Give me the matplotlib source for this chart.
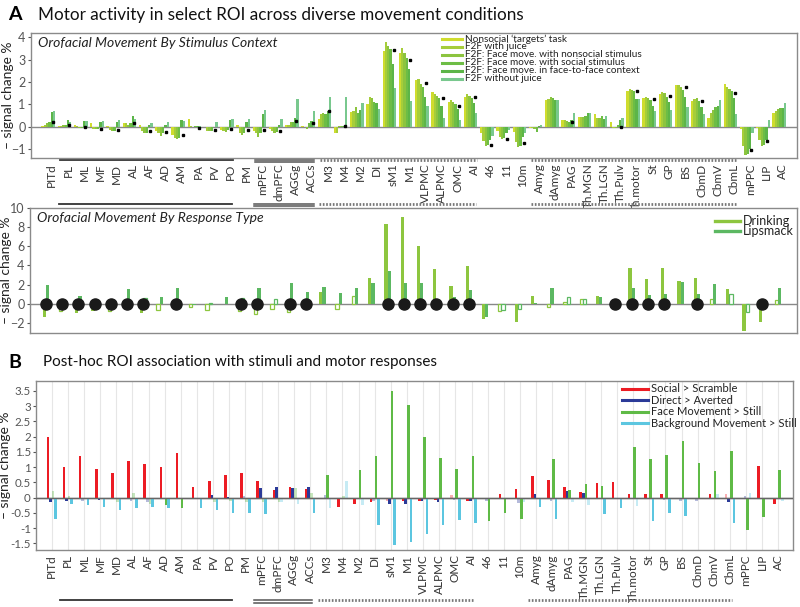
import numpy as np
import matplotlib.pyplot as plt

plt.rcParams['font.family'] = ['Lato', 'DejaVu Sans']

rois = ['PITd', 'PL', 'ML', 'MF', 'MD', 'AL', 'AF', 'AD', 'AM', 'PA', 'PV', 'PO',
        'PM', 'mPFC', 'dmPFC', 'AGGg', 'ACCs', 'M3', 'M4', 'M2', 'DI', 'sM1',
        'M1', 'VLPMC', 'ALPMC', 'OMC', 'AI', '46', '11', '10m', 'Amyg', 'dAmyg',
        'PAG', 'Th.MGN', 'Th.LGN', 'Th.Pulv', 'Th.motor', 'St', 'GP', 'BS',
        'CbmD', 'CbmV', 'CbmL', 'mPPC', 'LIP', 'AC']

# --- panel A, stimulus context ---
ctx_labels = ["Nonsocial \u2018targets\u2019 task", "F2F with juice",
              "F2F: Face move. with nonsocial stimulus",
              "F2F: Face move. with social stimulus",
              "F2F: Face move. in face-to-face context", "F2F without juice"]
nonsocial = [0.05, 0.05, 0.1, 0.15, 0.05, 0.15, 0.1, -0.2, -0.35, 0.35, 0.0, -0.15, 0.1, -0.2, -0.1, 0.1,
             0.05, 0.35, -0.3, 0.65, 1.0, 3.4, 3.3, 2.1, 1.55, 1.1, 1.35, -0.3, -0.2, -0.25, -0.05, 1.2,
             0.3, 0.45, 0.55, 0.2, 1.6, 1.3, 1.45, 1.85, 1.15, 0.4, 1.9, -0.1, -0.05, 0.6]
f2f_juice = [0.1, 0.05, 0.05, -0.1, -0.15, 0.15, -0.2, -0.3, -0.5, 0.05, -0.2, -0.2, -0.3, -0.3, -0.2, 0.1,
             0.0, 0.55, -0.3, 0.7, 1.35, 3.8, 3.55, 2.15, 1.45, 1.2, 1.45, -0.65, -0.45, -0.7, -0.05, 1.25,
             0.3, 0.45, 0.4, -0.05, 1.7, 1.35, 1.55, 1.85, 1.25, 0.6, 1.8, -0.85, -0.6, 0.7]
face_nonsoc = [0.15, 0.1, -0.05, -0.1, -0.2, 0.1, -0.3, -0.4, -0.55, 0.0, -0.2, -0.25, -0.35, -0.45, -0.3, 0.2,
               -0.1, 0.6, 0.05, 0.9, 1.3, 3.6, 3.3, 1.9, 1.4, 1.1, 1.4, -0.85, -0.55, -0.9, -0.1, 1.35,
               0.25, 0.45, 0.4, -0.05, 1.65, 1.3, 1.5, 1.8, 1.3, 0.75, 1.7, -1.25, -0.85, 0.8]
face_soc = [0.2, 0.1, -0.05, -0.1, -0.2, 0.15, -0.3, -0.3, -0.5, 0.05, -0.2, -0.15, -0.3, -0.3, -0.25, 0.2,
            0.15, 0.55, 0.05, 0.6, 1.1, 3.5, 3.1, 1.8, 1.3, 1.0, 1.3, -0.8, -0.5, -0.85, -0.25, 1.3,
            0.2, 0.5, 0.5, 0.1, 1.6, 1.2, 1.35, 1.65, 1.15, 0.9, 1.6, -1.2, -0.8, 0.85]
face_f2f = [0.65, 0.3, 0.25, 0.2, 0.2, 0.5, 0.1, 0.1, 0.3, 0.05, 0.0, 0.3, 0.2, 0.55, 0.1, 0.4,
            0.25, 0.7, 0.05, 0.75, 1.05, 2.8, 2.6, 1.35, 0.95, 0.8, 1.05, -0.6, -0.3, -0.45, 0.05, 1.2,
            0.3, 0.6, 0.35, 0.3, 1.25, 0.95, 1.1, 1.35, 0.9, 0.95, 1.3, -1.0, -0.6, 0.85]
f2f_nojuice = [0.7, 0.2, 0.25, 0.25, 0.3, 0.35, 0.15, 0.2, 0.25, 0.05, 0.2, 0.35, 0.35, 0.75, 0.35, 1.25,
               0.7, 1.35, 1.35, 1.05, 0.8, 1.75, 1.15, 0.95, 0.4, 0.3, 0.6, -0.4, -0.15, -0.3, 0.1, 1.2,
               0.6, 0.6, 0.5, 0.4, 1.25, 0.7, 0.75, 0.9, 0.55, 1.2, 0.55, -0.3, 0.3, 1.05]
ctx_marks = {'PITd': 0.2, 'PL': 0.1, 'ML': 0.0, 'MF': -0.1, 'MD': -0.15, 'AL': 0.15, 'AF': -0.2,
             'AD': -0.25, 'AM': -0.35, 'PA': -0.05, 'PV': -0.15, 'PO': -0.1, 'PM': -0.15,
             'mPFC': -0.15, 'dmPFC': -0.2, 'AGGg': 0.25, 'ACCs': 0.15, 'M3': 0.7, 'M4': 0.05,
             'sM1': 3.45, 'M1': 3.0, 'VLPMC': 1.95, 'ALPMC': 1.3, 'OMC': 0.95, 'AI': 1.35,
             '46': -0.8, '11': -0.55, '10m': -0.75, 'PAG': 0.2, 'Th.Pulv': 0.0, 'Th.motor': 1.6,
             'St': 1.25, 'GP': 1.4, 'BS': 1.8, 'CbmD': 1.15, 'CbmL': 1.5, 'mPPC': -1.05, 'LIP': -0.65}

# --- panel A, response type ---
drinking = [-1.4, -0.7, -1.0, -0.7, -0.7, 0.0, -1.0, -0.6, 0.0, -0.3, -0.6, 0.0, -0.7, -1.1, -0.5, -0.8,
            0.0, 1.2, -0.5, 0.8, 2.7, 8.3, 9.0, 6.0, 3.6, 1.9, 3.9, -1.6, -0.7, -1.9, 0.8, -0.3,
            0.2, 0.5, 0.8, 0.0, 3.7, 2.6, 3.7, 2.4, 2.7, 0.5, 1.5, -2.8, -1.9, 0.4]
lipsmack = [2.0, 0.5, 0.8, 0.55, 0.55, 1.5, 0.6, 0.7, 1.6, -0.1, 0.1, 0.7, 0.6, 1.7, 0.5, 2.2,
            1.2, 1.8, 1.1, 1.7, 2.2, 3.4, 2.2, 2.2, 0.1, 0.7, 1.4, -1.4, -0.6, -0.5, 0.1, 1.7,
            0.7, 0.5, 0.7, 0.2, 1.7, 0.9, 1.0, 2.3, 1.0, 2.1, 1.0, -0.8, 0.0, 1.6]
drink_open = ['PL', 'MD', 'AD', 'PA', 'PV', 'PM', 'mPFC', 'dmPFC', 'AGGg', 'M4', 'M2', '11',
              'dAmyg', 'PAG', 'Th.MGN', 'CbmV', 'AC']
lip_open = ['AF', 'PV', 'PM', 'dmPFC', '11', '10m', 'PAG', 'Th.MGN', 'Th.Pulv', 'CbmL', 'mPPC']
dot_rois = ['PITd', 'PL', 'ML', 'MF', 'MD', 'AL', 'AF', 'AM', 'PM', 'mPFC', 'AGGg', 'ACCs',
            'sM1', 'M1', 'VLPMC', 'ALPMC', 'OMC', 'AI', 'Th.Pulv', 'Th.motor', 'St', 'GP',
            'CbmD', 'LIP']

# --- panel B ---
b_labels = ['Social > Scramble', 'Direct > Averted', 'Face Movement > Still',
            'Background Movement > Still']
social = [2.0, 1.0, 1.35, 0.95, 0.8, 1.2, 1.1, 1.0, 1.45, 0.35, 0.55, 0.75, 0.8, 0.55, 0.25, 0.35,
          0.28, -0.03, -0.3, -0.2, -0.15, -0.1, -0.1, -0.1, -0.08, 0.08, -0.1, -0.05, 0.12, 0.27, 0.7, 0.58,
          0.35, 0.18, 0.48, 0.5, 0.12, 0.12, 0.12, -0.03, 0.0, 0.12, 0.12, -0.05, 1.02, -0.2]
direct = [-0.15, -0.1, -0.1, -0.08, -0.03, -0.12, -0.15, 0.0, -0.05, 0.0, 0.08, 0.03, 0.05, 0.3, 0.35, 0.3,
          0.33, 0.08, -0.05, 0.0, -0.12, -0.22, -0.2, -0.12, -0.15, -0.08, -0.12, -0.1, 0.0, -0.18, 0.12, -0.1,
          0.22, 0.15, 0.0, 0.0, -0.05, -0.05, -0.07, -0.1, -0.1, -0.05, -0.15, 0.05, 0.0, 0.0]
face_move = [0.2, 0.05, 0.0, 0.0, -0.15, 0.15, -0.2, -0.25, -0.35, 0.0, -0.15, -0.1, -0.15, -0.15, -0.15, 0.3,
             0.15, 0.75, 0.05, 0.9, 1.35, 3.5, 3.05, 2.0, 1.3, 0.95, 1.35, -0.78, -0.5, -0.72, 0.0, 1.25,
             0.25, 0.43, 0.38, 0.0, 1.65, 1.25, 1.4, 1.85, 1.12, 0.87, 1.52, -1.05, -0.65, 0.9]
bg_move = [-0.7, -0.2, -0.25, -0.3, -0.4, -0.35, -0.3, -0.35, 0.0, -0.35, -0.42, -0.5, -0.5, -0.55, -0.15, -0.2,
           -0.5, -0.35, 0.55, -0.25, -0.9, -1.55, -1.45, -1.2, -0.9, -0.75, -0.85, -0.05, -0.05, -0.15, -0.3, -0.7,
           -0.15, -0.25, -0.55, -0.33, -0.28, -0.78, -0.5, -0.6, 0.0, 0.1, -0.82, 0.15, 0.0, -0.1]
faint_social = ['M3', 'sM1', 'OMC', '46', 'BS', 'CbmL', 'mPPC']
faint_direct = ['ML', 'AL', 'AF', 'AM', 'PM', 'M3', 'M4', 'DI', 'OMC', '46', '10m', 'dAmyg',
                'Th.motor', 'St', 'GP', 'BS', 'CbmD', 'CbmV', 'mPPC']
faint_face = ['PITd', 'PL', 'MD', 'AL', 'AF', 'PV', 'PO', 'PM', 'mPFC', 'dmPFC', 'AGGg', 'ACCs', 'M4']
faint_bg = ['dmPFC', 'AGGg', 'M3', 'M4', 'M2', '46', '11', '10m', 'PAG', 'Th.MGN', 'Th.motor',
            'CbmV', 'mPPC', 'AC']

# anatomical groupings drawn as lines under the axis
groups = [('PL', 'PO', 'solid'), ('mPFC', 'ACCs', 'double'),
          ('M3', 'AI', 'dotted'), ('Amyg', 'CbmL', 'dotted')]

x = np.arange(len(rois))
idx = {r: i for i, r in enumerate(rois)}


def style_axes(ax, tsize=9, pad=2):
    for s in ax.spines.values():
        s.set_color('#8a8a8a')
        s.set_linewidth(1)
    ax.tick_params(axis='y', labelsize=tsize, colors='#555555', length=2, pad=pad)
    ax.tick_params(axis='x', length=0)
    ax.axhline(0, color='#888888', lw=1, zorder=1)


def group_lines(ax, y):
    tr = ax.get_xaxis_transform()
    for a, b, kind in groups:
        x0, x1 = idx[a] - 0.5, idx[b] + 0.15
        if kind == 'solid':
            ax.plot([x0, x1], [y, y], color='#333333', lw=1.3, transform=tr, clip_on=False)
        elif kind == 'double':
            ax.plot([x0, x1], [y, y], color='#555555', lw=1.1, transform=tr, clip_on=False)
            ax.plot([x0, x1], [y - 0.016, y - 0.016], color='#555555', lw=1.1, transform=tr,
                    clip_on=False)
        else:
            ax.plot([x0, x1], [y, y], color='#777777', lw=2, ls=(0, (0.6, 0.6)), transform=tr,
                    clip_on=False)


def ylabel(ax, xpos):
    ax.set_ylabel('\u2013 signal change %', fontsize=10, color='#222222')
    ax.yaxis.set_label_coords(xpos, 0.5)


fig = plt.figure(figsize=(8, 6.07), dpi=100)

# ---------------- A: stimulus context ----------------
ax1 = fig.add_axes([0.039, 0.7397, 0.957, 0.2059])
style_axes(ax1)
ctx_series = [nonsocial, f2f_juice, face_nonsoc, face_soc, face_f2f, f2f_nojuice]
ctx_colors = ['#cfdc2e', '#a6cd3a', '#8cc43f', '#6dbd45', '#5cb548', '#79c88e']
w = 0.14
for k, (vals, c) in enumerate(zip(ctx_series, ctx_colors)):
    ax1.bar(x - 0.22 + (k - 2.5) * w, vals, width=w, color=c, edgecolor='none', zorder=2)
mk = list(ctx_marks)
ax1.plot([idx[r] + 0.05 for r in mk], [ctx_marks[r] for r in mk], ls='none', marker='s',
         ms=1.8, color='black', zorder=4)
ax1.set_xlim(-1.27, 45.86)
ax1.set_ylim(-1.4, 4.2)
ax1.set_yticks([-1, 0, 1, 2, 3, 4])
ax1.set_xticks(x)
ax1.set_xticklabels(rois, rotation=90, fontsize=8.5, color='#333333')
ax1.tick_params(axis='x', pad=4)
ylabel(ax1, -0.022)
ax1.text(0.009, 0.92, 'Orofacial Movement By Stimulus Context', transform=ax1.transAxes,
         fontsize=10, style='italic', va='center', color='#222222')
for i, (lab, c) in enumerate(zip(ctx_labels, ctx_colors)):
    yy = 1 - (6.0 + 7.9 * i) / 125
    ax1.plot([0.537, 0.563], [yy, yy], color=c, lw=2.2, transform=ax1.transAxes)
    ax1.text(0.566, yy, lab, transform=ax1.transAxes, fontsize=7.2, va='center', color='#222222')
group_lines(ax1, -0.018)

# ---------------- A: response type ----------------
ax2 = fig.add_axes([0.0375, 0.4519, 0.9588, 0.2059])
style_axes(ax2)
wd = 0.2
for vals, c, opened, off in [(drinking, '#8dc63f', drink_open, -0.4),
                             (lipsmack, '#5cb862', lip_open, -0.2)]:
    for i, v in enumerate(vals):
        if rois[i] in opened:
            ax2.bar(i + off, v, width=wd, facecolor='white', edgecolor=c, lw=0.9, zorder=2)
        else:
            ax2.bar(i + off, v, width=wd, color=c, edgecolor='none', zorder=2)
ax2.plot([idx[r] - 0.3 for r in dot_rois], [0] * len(dot_rois), ls='none', marker='o', ms=8,
         color='#1a1a1a', zorder=5)
ax2.set_xlim(-1.27, 45.86)
ax2.set_ylim(-3, 10)
ax2.set_yticks([-2, 0, 2, 4, 6, 8, 10])
ax2.set_xticks([])
ylabel(ax2, -0.023)
ax2.text(0.009, 0.92, 'Orofacial Movement By Response Type', transform=ax2.transAxes,
         fontsize=10, style='italic', va='center', color='#222222')
for i, (lab, c) in enumerate(zip(['Drinking', 'Lipsmack'], ['#8dc63f', '#5cb862'])):
    yy = 1 - (13 + 10.5 * i) / 125
    ax2.plot([0.893, 0.925], [yy, yy], color=c, lw=2.4, transform=ax2.transAxes)
    ax2.text(0.929, yy, lab, transform=ax2.transAxes, fontsize=9, va='center', color='#222222')
group_lines(ax2, 1.03)

# ---------------- B ----------------
ax3 = fig.add_axes([0.0446, 0.0939, 0.9466, 0.2784])
style_axes(ax3, tsize=8.3, pad=1.5)
for xi in x:
    ax3.axvline(xi, color='#e6e6e6', lw=0.8, zorder=0)
b_series = [social, direct, face_move, bg_move]
b_faint = [faint_social, faint_direct, faint_face, faint_bg]
b_colors = ['#ec1c24', '#2b3a98', '#5fba46', '#5cc6e0']
wb = 0.16
for k, (vals, fl, c) in enumerate(zip(b_series, b_faint, b_colors)):
    alphas = [0.35 if r in fl else 1.0 for r in rois]
    for i, v in enumerate(vals):
        ax3.bar(i + (k - 1.5) * wb, v, width=wb, color=c, alpha=alphas[i], edgecolor='none',
                zorder=2)
ax3.axhline(0, color='#666666', lw=1, zorder=3)
ax3.set_xlim(-0.99, 45.9)
ax3.set_ylim(-1.72, 3.82)
yt = [-1.5, -1, -0.5, 0, 0.5, 1, 1.5, 2, 2.5, 3, 3.5]
ax3.set_yticks(yt)
ax3.set_yticklabels([f'{v:g}' for v in yt])
ax3.set_xticks(x)
ax3.set_xticklabels(rois, rotation=90, fontsize=8.5, color='#333333')
ax3.tick_params(axis='x', pad=3)
ylabel(ax3, -0.033)
for i, (lab, c) in enumerate(zip(b_labels, b_colors)):
    yy = 1 - (7.5 + 11.6 * i) / 169
    ax3.plot([0.774, 0.809], [yy, yy], color=c, lw=2.2, transform=ax3.transAxes)
    ax3.text(0.813, yy, lab, transform=ax3.transAxes, fontsize=8, va='center',
             color='#222222')
group_lines(ax3, -0.296)

# panel titles
fig.text(0.01, 1 - 15 / 607, 'A', fontsize=14, fontweight='bold', va='center')
fig.text(0.048, 1 - 15 / 607, 'Motor activity in select ROI across diverse movement conditions',
         fontsize=12.3, va='center', color='#111111')
fig.text(0.01, 1 - 362 / 607, 'B', fontsize=14, fontweight='bold', va='center')
fig.text(0.054, 1 - 362 / 607, 'Post-hoc ROI association with stimuli and motor responses',
         fontsize=11, va='center', color='#111111')

fig.savefig('out.png', dpi=100)
